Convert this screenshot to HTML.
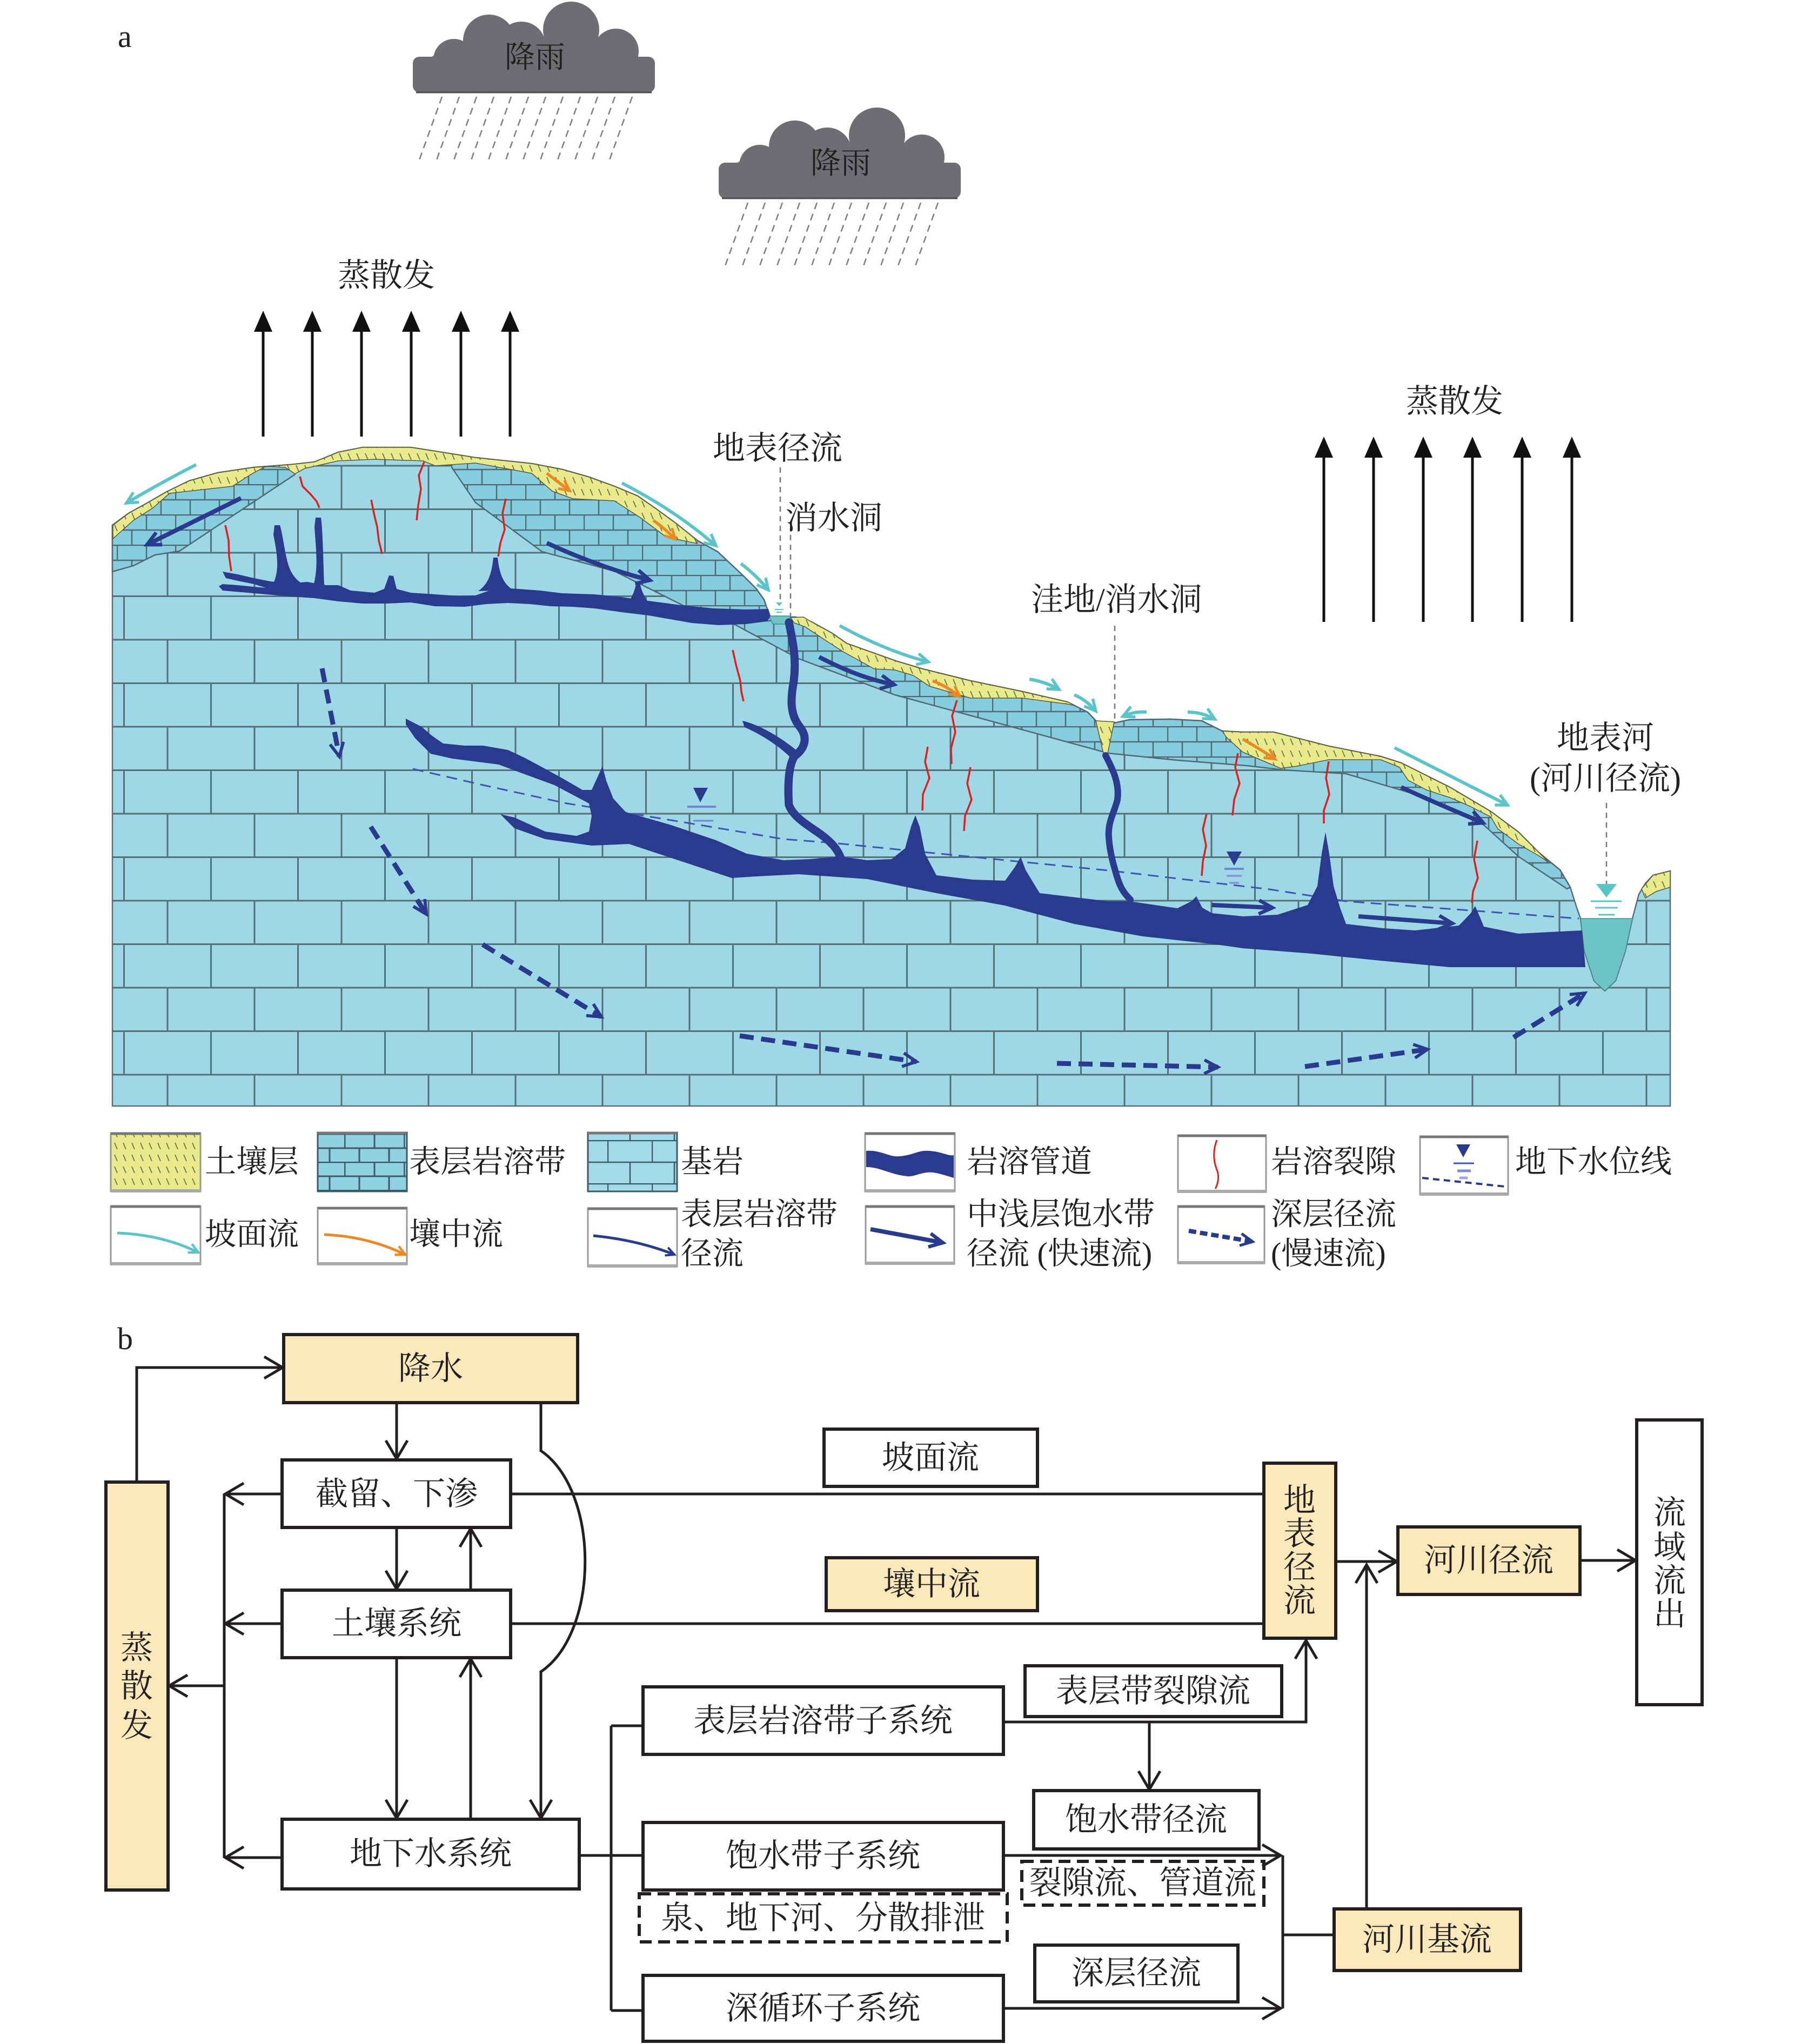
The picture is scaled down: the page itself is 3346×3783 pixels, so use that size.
<!DOCTYPE html>
<html><head><meta charset="utf-8">
<style>
html,body{margin:0;padding:0;background:#fff;}
svg{display:block}
text{font-family:"Liberation Serif","Noto Serif CJK SC",serif;fill:#231f20;}
</style></head>
<body>
<svg width="3346" height="3783" viewBox="0 0 3346 3783" xmlns="http://www.w3.org/2000/svg">
<defs>
  <pattern id="bed" patternUnits="userSpaceOnUse" x="67" y="1263" width="161" height="161">
    <rect width="161" height="161" fill="#9ed8e6"/>
    <path d="M0 1.5H161M0 82H161M1.5 0V82M82 82V161" stroke="#56707a" stroke-width="3" fill="none"/>
  </pattern>
  <pattern id="epi" patternUnits="userSpaceOnUse" x="0" y="0" width="108" height="56">
    <rect width="108" height="56" fill="#86cddf"/>
    <path d="M0 1H108M0 29H108M1 0V29M55 0V29M28 29V56M82 29V56" stroke="#4f6a75" stroke-width="2.5" fill="none"/>
  </pattern>
  <pattern id="epiL" patternUnits="userSpaceOnUse" x="637" y="2098" width="110" height="52">
    <rect width="110" height="52" fill="#8fd3e3"/>
    <path d="M0 1H110M0 27H110M1 0V27M56 0V27M28 27V52M83 27V52" stroke="#3e5a66" stroke-width="3" fill="none"/>
  </pattern>
  <pattern id="bedL" patternUnits="userSpaceOnUse" x="1124" y="2110" width="82" height="80">
    <rect width="82" height="80" fill="#a3dbe8"/>
    <path d="M0 1H82M0 41H82M1 0V41M42 41V80" stroke="#3e5a66" stroke-width="2.5" fill="none"/>
  </pattern>
  <pattern id="soil" patternUnits="userSpaceOnUse" width="16" height="22">
    <rect width="16" height="22" fill="#e8ea8c"/>
    <path d="M4 3L9 15" stroke="#6e6e48" stroke-width="1.7"/>
  </pattern>
  <marker id="aC" viewBox="0 0 10 10" refX="8" refY="5" markerWidth="5" markerHeight="5" orient="auto"><path d="M1 1.5L8 5L1 8.5" fill="none" stroke="#5bc4c8" stroke-width="1.8"/></marker>
  <marker id="aO" viewBox="0 0 10 10" refX="8" refY="5" markerWidth="5" markerHeight="5" orient="auto"><path d="M1 1.5L8 5L1 8.5" fill="none" stroke="#e88a25" stroke-width="1.8"/></marker>
  <marker id="aN" viewBox="0 0 10 10" refX="8" refY="5" markerWidth="4.5" markerHeight="4.5" orient="auto"><path d="M1 1.5L8 5L1 8.5" fill="none" stroke="#2a3a8c" stroke-width="1.8"/></marker>
  <marker id="aD" viewBox="0 0 10 10" refX="8" refY="5" markerWidth="4" markerHeight="4" orient="auto"><path d="M1 1.5L8 5L1 8.5" fill="none" stroke="#2a3a8c" stroke-width="1.6"/></marker>
  <g id="cloud">
    <g fill="#6d6e71">
      <circle cx="800" cy="140" r="32"/>
      <circle cx="840" cy="110" r="38"/>
      <circle cx="905" cy="75" r="48"/>
      <circle cx="965" cy="85" r="45"/>
      <circle cx="1057" cy="55" r="52"/>
      <circle cx="1140" cy="95" r="42"/>
      <circle cx="1182" cy="138" r="30"/>
      <rect x="764" y="105" width="448" height="66" rx="12"/>
      <ellipse cx="990" cy="120" rx="200" ry="50"/>
    </g>
    <line x1="770" y1="171" x2="1206" y2="171" stroke="#4a4b4d" stroke-width="3"/>
    <g stroke="#7d7d7d" stroke-width="2.5" stroke-dasharray="13 9">
      <line x1="818" y1="179" x2="776" y2="296"/>
      <line x1="850" y1="179" x2="808" y2="296"/>
      <line x1="882" y1="179" x2="840" y2="296"/>
      <line x1="914" y1="179" x2="872" y2="296"/>
      <line x1="946" y1="179" x2="904" y2="296"/>
      <line x1="978" y1="179" x2="936" y2="296"/>
      <line x1="1010" y1="179" x2="968" y2="296"/>
      <line x1="1042" y1="179" x2="1000" y2="296"/>
      <line x1="1074" y1="179" x2="1032" y2="296"/>
      <line x1="1106" y1="179" x2="1064" y2="296"/>
      <line x1="1138" y1="179" x2="1096" y2="296"/>
      <line x1="1170" y1="179" x2="1128" y2="296"/>
    </g>
  </g>
</defs>

<!-- ============ PART A ============ -->
<text x="218" y="87" font-size="58">a</text>

<use href="#cloud"/>
<use href="#cloud" transform="translate(566,196)"/>
<text x="990" y="107" font-size="56" text-anchor="middle" dominant-baseline="central">降雨</text>
<text x="1556" y="303" font-size="56" text-anchor="middle" dominant-baseline="central">降雨</text>

<!-- evaporation left -->
<text x="715" y="510" font-size="60" text-anchor="middle" dominant-baseline="central">蒸散发</text>
<g stroke="#111" stroke-width="5">
  <line x1="487" y1="808" x2="487" y2="610"/><line x1="578" y1="808" x2="578" y2="610"/>
  <line x1="669" y1="808" x2="669" y2="610"/><line x1="761" y1="808" x2="761" y2="610"/>
  <line x1="853" y1="808" x2="853" y2="610"/><line x1="944" y1="808" x2="944" y2="610"/>
</g>
<g fill="#111">
  <polygon points="470,614 487,575 504,614"/><polygon points="561,614 578,575 595,614"/>
  <polygon points="652,614 669,575 686,614"/><polygon points="744,614 761,575 778,614"/>
  <polygon points="836,614 853,575 870,614"/><polygon points="927,614 944,575 961,614"/>
</g>
<!-- evaporation right -->
<text x="2692" y="743" font-size="60" text-anchor="middle" dominant-baseline="central">蒸散发</text>
<g stroke="#111" stroke-width="5">
  <line x1="2450" y1="1151" x2="2450" y2="843"/><line x1="2542" y1="1151" x2="2542" y2="843"/>
  <line x1="2634" y1="1151" x2="2634" y2="843"/><line x1="2725" y1="1151" x2="2725" y2="843"/>
  <line x1="2817" y1="1151" x2="2817" y2="843"/><line x1="2909" y1="1151" x2="2909" y2="843"/>
</g>
<g fill="#111">
  <polygon points="2433,847 2450,808 2467,847"/><polygon points="2525,847 2542,808 2559,847"/>
  <polygon points="2617,847 2634,808 2651,847"/><polygon points="2708,847 2725,808 2742,847"/>
  <polygon points="2800,847 2817,808 2834,847"/><polygon points="2892,847 2909,808 2926,847"/>
</g>

<!-- ground / bedrock -->
<polygon fill="url(#bed)" stroke="#56707a" stroke-width="2.5" points="208,972 238,950 269,933 309,910 350,890 403,875 470,865 537,860 582,855 626,837 671,828 760,828 805,835 880,847 984,858 1041,869 1090,883 1137,900 1180,918 1213,941 1250,968 1290,1000 1328,1021 1376,1066 1400,1090 1414,1110 1424,1139 1432,1153 1456,1153 1462,1142 1472,1142 1500,1150 1540,1172 1567,1191 1618,1209 1660,1224 1707,1238 1796,1260 1892,1280 1975,1299 2013,1318 2030,1336 2045,1350 2062,1338 2090,1332 2166,1331 2224,1334 2262,1353 2300,1355 2357,1355 2459,1381 2555,1400 2593,1412 2683,1457 2759,1502 2810,1540 2848,1578 2887,1610 2906,1642 2918,1680 2925,1700 2932,1760 2950,1815 2970,1834 2990,1815 3008,1760 3021,1700 3033,1655 3045,1635 3059,1620 3091,1612 3091,2047 208,2047"/>

<!-- epikarst zones -->
<polygon fill="url(#epi)" stroke="#4f6a75" stroke-width="2.5" points="208,972 238,950 269,933 309,910 350,890 403,875 470,865 537,860 546,860 546,878 332,1020 287,1027 247,1047 208,1058"/>
<polygon fill="url(#epi)" stroke="#4f6a75" stroke-width="2.5" points="836,845 880,847 984,858 1041,869 1090,883 1137,900 1180,918 1213,941 1250,968 1290,1000 1328,1021 1376,1066 1400,1090 1414,1110 1424,1139 1432,1153 1456,1153 1462,1142 1472,1142 1500,1150 1540,1172 1567,1191 1618,1209 1660,1224 1707,1238 1796,1260 1892,1280 1975,1299 2013,1318 2030,1336 2045,1350 2062,1338 2090,1332 2166,1331 2224,1334 2262,1353 2300,1355 2357,1355 2459,1381 2555,1400 2593,1412 2683,1457 2759,1502 2810,1540 2848,1578 2887,1610 2906,1642 2900,1645 2810,1585 2746,1527 2619,1470 2491,1432 2376,1425 2307,1417 2179,1407 2090,1398 2051,1394 1656,1286 1478,1219 1330,1140 1271,1124 1137,1057 1003,1021 880,930 836,865"/>

<!-- soil -->
<g fill="url(#soil)" stroke="#5a5a3a" stroke-width="1.5">
  <polygon points="209,972 238,950 269,933 309,910 350,890 403,875 470,865 537,860 582,855 626,837 671,828 760,828 805,835 880,847 984,858 1041,869 1090,883 1137,900 1180,918 1213,941 1250,968 1290,1000 1290,1006 1233,994 1185,958 1137,927 1060,923 1022,909 984,876 880,857 805,862 783,853 693,850 626,853 564,867 546,877 528,865 492,863 466,877 430,900 367,907 314,913 283,940 247,963 209,997"/>
  <polygon points="1463,1143 1487,1142 1500,1150 1540,1172 1567,1191 1618,1209 1660,1224 1707,1238 1796,1260 1892,1280 1975,1299 1990,1306 1975,1303 1892,1292 1796,1292 1720,1270 1690,1250 1656,1240 1618,1238 1560,1206 1520,1180 1490,1160 1470,1153"/>
  <polygon points="2028,1334 2062,1336 2050,1394 2042,1394"/>
  <polygon points="2262,1353 2300,1355 2357,1355 2459,1381 2555,1400 2593,1412 2683,1457 2759,1502 2810,1540 2848,1578 2866,1596 2848,1584 2810,1562 2772,1534 2759,1512 2720,1492 2683,1476 2640,1462 2606,1444 2590,1420 2555,1406 2459,1406 2400,1418 2370,1422 2330,1405 2300,1392 2270,1365"/>
  <polygon points="3038,1645 3059,1620 3091,1612 3091,1642 3065,1650 3045,1662"/>
</g>

<!-- water: sinkhole and river -->
<polygon fill="#6cc4c4" stroke="#4f8a8a" stroke-width="1.5" points="1423,1140 1463,1140 1457,1155 1430,1155"/>
<polygon fill="#6cc4c4" stroke="#4f8a8a" stroke-width="1.5" points="2925,1700 3021,1700 3008,1760 2990,1815 2970,1834 2950,1815 2932,1760"/>

<!-- water table line -->
<polyline fill="none" stroke="#3f55b0" stroke-width="3" stroke-dasharray="20 12" points="764,1423 894,1453 1049,1487 1158,1504 1296,1527 1450,1553 1541,1560 1669,1573 2051,1611 2350,1646 2491,1668 2922,1700"/>

<!-- conduits -->
<g fill="#2a3a8c">
  <path d="M412,1058 L440,1063 L470,1070 L500,1076 L537,1080 L568,1077 L604,1083 L626,1083 L649,1093 L693,1097 L711,1090 L720,1065 L728,1066 L734,1090 L760,1097 L805,1100 L850,1103 L880,1102 L920,1088 L960,1090 L1000,1093 L1040,1098 L1100,1100 L1150,1105 L1200,1112 L1260,1120 L1320,1126 L1380,1128 L1422,1127 L1426,1140 L1420,1150 L1380,1155 L1330,1157 L1280,1153 L1240,1146 L1200,1139 L1150,1133 L1100,1126 L1060,1123 L1020,1122 L980,1118 L940,1116 L900,1118 L860,1123 L805,1122 L760,1115 L716,1117 L671,1117 L626,1113 L582,1107 L537,1104 L470,1098 L412,1093 L405,1085 L412,1081 L440,1083 L470,1086 L492,1088 L470,1081 L440,1075 L418,1070 Z"/>
  <path d="M502,1086 C520,1060 512,1020 506,990 L508,972 L518,972 C526,1000 528,1040 540,1060 C548,1075 560,1080 566,1086 Z"/>
  <path d="M580,1084 C590,1050 584,1010 582,975 L584,958 L594,958 C598,990 598,1040 600,1084 Z"/>
  <path d="M885,1094 C905,1080 910,1060 913,1032 L921,1032 C924,1060 930,1080 950,1092 Z"/>
  <path d="M1165,1112 C1175,1095 1176,1085 1178,1077 L1184,1077 C1186,1090 1190,1100 1200,1116 Z"/>
  <path d="M751,1330 L780,1345 L800,1362 L820,1376 L860,1380 L894,1380 L940,1388 L970,1402 L998,1417 L1040,1440 L1078,1462 L1095,1462 L1105,1440 L1115,1418 L1122,1445 L1135,1478 L1158,1503 L1239,1526 L1325,1555 L1382,1580 L1450,1592 L1500,1590 L1554,1585 L1605,1592 L1650,1590 L1675,1570 L1686,1530 L1694,1509 L1702,1530 L1712,1580 L1733,1620 L1800,1628 L1860,1630 L1878,1605 L1889,1586 L1898,1610 L1924,1653 L2000,1662 L2051,1668 L2090,1668 L2179,1681 L2205,1668 L2214,1659 L2225,1680 L2243,1690 L2300,1696 L2364,1693 L2420,1675 L2438,1640 L2446,1580 L2453,1540 L2460,1580 L2468,1640 L2480,1680 L2491,1710 L2560,1718 L2619,1722 L2700,1713 L2722,1690 L2730,1677 L2740,1700 L2746,1715 L2810,1728 L2928,1722 L2934,1790 L2810,1790 L2683,1790 L2555,1778 L2428,1765 L2300,1755 L2243,1747 L2115,1733 L1988,1710 L1860,1676 L1733,1653 L1605,1627 L1478,1618 L1400,1622 L1354,1625 L1285,1602 L1164,1562 L1095,1565 L1009,1553 L952,1533 L926,1507 L952,1513 L1009,1539 L1067,1547 L1090,1539 L1095,1510 L1090,1487 L1026,1453 L963,1430 L923,1415 L837,1404 L797,1395 L768,1366 L751,1341 Z"/>
  <path d="M1374,1334 C1400,1340 1440,1360 1478,1392 L1472,1412 C1450,1385 1410,1360 1378,1346 Z"/>
</g>
<g fill="none" stroke="#2a3a8c" stroke-linecap="round" stroke-linejoin="round">
  <path stroke-width="15" d="M1460,1152 C1468,1190 1474,1220 1469,1260 C1464,1290 1460,1320 1480,1345 C1496,1365 1490,1385 1470,1400 C1458,1420 1458,1460 1460,1490 C1470,1515 1500,1530 1520,1545 C1540,1560 1550,1572 1556,1588"/>
  <path stroke-width="12" d="M2046,1398 C2060,1425 2072,1450 2068,1480 C2062,1505 2050,1520 2052,1550 C2054,1580 2062,1605 2068,1625 C2074,1645 2082,1655 2092,1665"/>
</g>

<!-- fractures -->
<g fill="none" stroke="#e0201c" stroke-width="3.5" stroke-linejoin="round">
  <polyline points="555,882 560,900 575,915 586,928 591,940"/>
  <polyline points="785,855 775,880 779,905 774,935 771,963"/>
  <polyline points="687,925 692,950 698,975 701,1000 707,1025"/>
  <polyline points="936,923 930,950 934,980 926,1005 922,1030"/>
  <polyline points="417,972 423,1000 424,1030 428,1057"/>
  <polyline points="1356,1203 1362,1230 1370,1260 1372,1280 1376,1298"/>
  <polyline points="1771,1296 1762,1325 1768,1355 1760,1385 1761,1414"/>
  <polyline points="1717,1382 1712,1410 1720,1440 1708,1470 1707,1500"/>
  <polyline points="1796,1420 1790,1450 1798,1480 1786,1510 1784,1538"/>
  <polyline points="2291,1394 2286,1420 2294,1450 2284,1480 2281,1509"/>
  <polyline points="2233,1506 2226,1535 2232,1565 2226,1595 2224,1621"/>
  <polyline points="2459,1409 2454,1440 2460,1470 2450,1500 2450,1524"/>
  <polyline points="2734,1556 2728,1590 2735,1625 2726,1650 2724,1671"/>
</g>

<!-- slope flow (cyan) -->
<g fill="none" stroke="#5bc4c8" stroke-width="6" marker-end="url(#aC)">
  <path d="M363,860 Q300,892 234,931"/>
  <path d="M1151,894 Q1250,945 1325,1010"/>
  <path d="M1371,1043 Q1400,1065 1422,1092"/>
  <path d="M1554,1158 Q1640,1205 1718,1225"/>
  <path d="M1905,1257 Q1935,1262 1960,1276"/>
  <path d="M1988,1286 Q2010,1295 2028,1316"/>
  <path d="M2122,1318 Q2100,1316 2078,1326"/>
  <path d="M2198,1318 Q2225,1318 2248,1331"/>
  <path d="M2581,1384 L2790,1490"/>
</g>
<!-- interflow (orange) -->
<g fill="none" stroke="#e88a25" stroke-width="5.5" marker-end="url(#aO)">
  <path d="M1012,876 Q1030,890 1054,908"/>
  <path d="M1209,963 Q1230,978 1250,998"/>
  <path d="M1726,1260 Q1752,1270 1776,1289"/>
  <path d="M2300,1368 Q2330,1385 2360,1405"/>
</g>
<!-- epikarst flow (navy) -->
<g fill="none" stroke="#2a3a8c" stroke-width="8" marker-end="url(#aN)">
  <path d="M446,922 L272,1008"/>
  <path d="M1012,1005 Q1110,1050 1203,1074"/>
  <path d="M1516,1216 Q1590,1255 1655,1267"/>
  <path d="M2593,1457 Q2670,1492 2745,1523"/>
  <path d="M2243,1675 L2355,1680"/>
  <path d="M2514,1696 L2688,1709"/>
</g>
<!-- deep flow dashed -->
<g fill="none" stroke="#2a3a8c" stroke-width="9" stroke-dasharray="26 14" marker-end="url(#aD)">
  <path d="M596,1237 L628,1400"/>
  <path d="M686,1530 L789,1692"/>
  <path d="M893,1748 L1113,1882"/>
  <path d="M1369,1917 L1696,1965"/>
  <path d="M1956,1968 L2254,1975"/>
  <path d="M2415,1974 L2642,1942"/>
  <path d="M2801,1920 L2933,1838"/>
</g>

<!-- water table symbols -->
<polygon fill="#2a3a8c" points="1283,1458 1310,1458 1296,1485"/>
<line x1="1272" y1="1493" x2="1325" y2="1493" stroke="#6f86cc" stroke-width="4"/>
<line x1="1283" y1="1519" x2="1320" y2="1519" stroke="#6f86cc" stroke-width="3"/>
<polygon fill="#2a3a8c" points="2270,1576 2298,1576 2284,1602"/>
<line x1="2266" y1="1608" x2="2302" y2="1608" stroke="#6f86cc" stroke-width="4"/>
<line x1="2270" y1="1621" x2="2298" y2="1621" stroke="#8a9ad6" stroke-width="4"/>
<line x1="2275" y1="1634" x2="2293" y2="1634" stroke="#8a9ad6" stroke-width="4"/>
<!-- sinkhole water symbol -->
<polygon fill="#5bc4c8" points="1436,1115 1448,1115 1442,1122"/>
<line x1="1434" y1="1128" x2="1450" y2="1128" stroke="#5bc4c8" stroke-width="2"/>
<line x1="1437" y1="1133" x2="1447" y2="1133" stroke="#5bc4c8" stroke-width="2"/>

<!-- leader lines -->
<g stroke="#777" stroke-width="2.5" stroke-dasharray="10 8" fill="none">
  <line x1="1444" y1="865" x2="1444" y2="1110"/>
  <line x1="1463" y1="990" x2="1463" y2="1140"/>
  <line x1="2063" y1="1158" x2="2063" y2="1330"/>
  <line x1="2973" y1="1486" x2="2973" y2="1636"/>
</g>
<polygon fill="#5bc4c8" points="2954,1636 2992,1636 2973,1661"/>
<line x1="2944" y1="1668" x2="3001" y2="1668" stroke="#5bc4c8" stroke-width="3"/>
<line x1="2952" y1="1680" x2="2994" y2="1680" stroke="#5bc4c8" stroke-width="3"/>
<line x1="2958" y1="1693" x2="2988" y2="1693" stroke="#5bc4c8" stroke-width="3"/>

<!-- labels -->
<g font-size="60" dominant-baseline="central">
  <text x="1319" y="830">地表径流</text>
  <text x="1453" y="959">消水洞</text>
  <text x="1908" y="1110">洼地/消水洞</text>
  <text x="2971" y="1366" text-anchor="middle">地表河</text>
  <text x="2971" y="1441" text-anchor="middle">(河川径流)</text>
</g>

<!-- ============ LEGEND ============ -->
<g>
  <rect x="205" y="2097" width="166" height="108" fill="url(#soil)" stroke="#999" stroke-width="3"/>
  <rect x="588" y="2096" width="165" height="109" fill="url(#epiL)" stroke="#3e5a66" stroke-width="3"/>
  <rect x="1088" y="2096" width="165" height="109" fill="url(#bedL)" stroke="#3e5a66" stroke-width="3"/>
  <rect x="1601" y="2097" width="166" height="108" fill="#fff" stroke="#999" stroke-width="3"/>
  <rect x="2180" y="2101" width="163" height="105" fill="#fff" stroke="#999" stroke-width="3"/>
  <rect x="2628" y="2103" width="163" height="108" fill="#fff" stroke="#999" stroke-width="3"/>
  <rect x="205" y="2232" width="166" height="108" fill="#fff" stroke="#999" stroke-width="3"/>
  <rect x="588" y="2235" width="165" height="105" fill="#fff" stroke="#999" stroke-width="3"/>
  <rect x="1088" y="2236" width="165" height="108" fill="#fff" stroke="#999" stroke-width="3"/>
  <rect x="1602" y="2232" width="164" height="107" fill="#fff" stroke="#999" stroke-width="3"/>
  <rect x="2180" y="2232" width="160" height="106" fill="#fff" stroke="#999" stroke-width="3"/>
  <g stroke="#777" stroke-width="5">
    <line x1="205" y1="2098" x2="371" y2="2098"/><line x1="588" y1="2097" x2="753" y2="2097"/>
    <line x1="1088" y1="2097" x2="1253" y2="2097"/><line x1="1601" y1="2098" x2="1767" y2="2098"/>
    <line x1="2180" y1="2102" x2="2343" y2="2102"/><line x1="2628" y1="2104" x2="2791" y2="2104"/>
    <line x1="205" y1="2233" x2="371" y2="2233"/><line x1="588" y1="2236" x2="753" y2="2236"/>
    <line x1="1088" y1="2237" x2="1253" y2="2237"/><line x1="1602" y1="2233" x2="1766" y2="2233"/>
    <line x1="2180" y1="2233" x2="2340" y2="2233"/>
  </g>
  <g stroke="#aaa" stroke-width="6">
    <line x1="205" y1="2204" x2="371" y2="2204"/><line x1="1601" y1="2204" x2="1767" y2="2204"/>
    <line x1="2180" y1="2205" x2="2343" y2="2205"/><line x1="2628" y1="2210" x2="2791" y2="2210"/>
    <line x1="205" y1="2339" x2="371" y2="2339"/><line x1="588" y1="2339" x2="753" y2="2339"/>
    <line x1="1088" y1="2343" x2="1253" y2="2343"/><line x1="1602" y1="2338" x2="1766" y2="2338"/>
    <line x1="2180" y1="2337" x2="2340" y2="2337"/>
  </g>
  <path fill="#2a3a8c" d="M1603,2130 C1630,2128 1645,2142 1665,2140 C1690,2138 1700,2128 1720,2130 C1745,2132 1755,2140 1765,2138 L1765,2180 C1750,2176 1730,2168 1715,2170 C1700,2172 1690,2178 1680,2177 C1650,2175 1630,2160 1603,2160 Z"/>
  <path fill="none" stroke="#e0201c" stroke-width="3" d="M2252,2110 C2244,2130 2246,2150 2252,2165 C2258,2180 2252,2195 2249,2200"/>
  <polygon fill="#2a3a8c" points="2695,2118 2721,2118 2708,2142"/>
  <line x1="2690" y1="2153" x2="2728" y2="2153" stroke="#3f55b0" stroke-width="3"/>
  <line x1="2697" y1="2167" x2="2722" y2="2167" stroke="#7a8fd0" stroke-width="5"/>
  <line x1="2701" y1="2180" x2="2716" y2="2180" stroke="#9aa8dc" stroke-width="5"/>
  <path d="M2632,2180 L2785,2196" stroke="#2a3a8c" stroke-width="4" stroke-dasharray="12 8" fill="none"/>
  <path d="M217,2282 Q300,2285 367,2318" fill="none" stroke="#5bc4c8" stroke-width="5" marker-end="url(#aC)"/>
  <path d="M600,2285 Q680,2288 750,2322" fill="none" stroke="#e88a25" stroke-width="5" marker-end="url(#aO)"/>
  <path d="M1098,2287 Q1180,2295 1248,2322" fill="none" stroke="#2a3a8c" stroke-width="5" marker-end="url(#aN)"/>
  <path d="M1611,2275 L1745,2300" fill="none" stroke="#2a3a8c" stroke-width="8" marker-end="url(#aN)"/>
  <path d="M2200,2278 L2318,2298" fill="none" stroke="#2a3a8c" stroke-width="8" stroke-dasharray="14 7" marker-end="url(#aD)"/>
  <g font-size="58" dominant-baseline="central">
    <text x="379" y="2150">土壤层</text>
    <text x="757" y="2150">表层岩溶带</text>
    <text x="1260" y="2150">基岩</text>
    <text x="1789" y="2150">岩溶管道</text>
    <text x="2352" y="2150">岩溶裂隙</text>
    <text x="2804" y="2150">地下水位线</text>
    <text x="379" y="2284">坡面流</text>
    <text x="757" y="2284">壤中流</text>
    <text x="1260" y="2247">表层岩溶带</text>
    <text x="1260" y="2320">径流</text>
    <text x="1789" y="2247">中浅层饱水带</text>
    <text x="1789" y="2320">径流 (快速流)</text>
    <text x="2352" y="2247">深层径流</text>
    <text x="2352" y="2320">(慢速流)</text>
  </g>
</g>

<!-- ============ PART B ============ -->
<text x="217" y="2497" font-size="58">b</text>
<g stroke="#231f20" stroke-width="6">
  <rect x="525" y="2470" width="544" height="126" fill="#f9e8b9"/>
  <rect x="522" y="2702" width="423" height="125" fill="#fff"/>
  <rect x="522" y="2943" width="423" height="125" fill="#fff"/>
  <rect x="522" y="3367" width="550" height="129" fill="#fff"/>
  <rect x="196" y="2743" width="115" height="755" fill="#f9e8b9"/>
  <rect x="1525" y="2645" width="395" height="106" fill="#fff"/>
  <rect x="1529" y="2883" width="391" height="98" fill="#f9e8b9"/>
  <rect x="2339" y="2708" width="133" height="324" fill="#f9e8b9"/>
  <rect x="2587" y="2826" width="337" height="125" fill="#f9e8b9"/>
  <rect x="3029" y="2628" width="121" height="527" fill="#fff"/>
  <rect x="1190" y="3122" width="667" height="125" fill="#fff"/>
  <rect x="1897" y="3083" width="475" height="94" fill="#fff"/>
  <rect x="1913" y="3314" width="417" height="108" fill="#fff"/>
  <rect x="1190" y="3373" width="667" height="125" fill="#fff"/>
  <rect x="2469" y="3533" width="345" height="114" fill="#f9e8b9"/>
  <rect x="1915" y="3600" width="376" height="105" fill="#fff"/>
  <rect x="1190" y="3656" width="667" height="122" fill="#fff"/>
  <rect x="1891" y="3445" width="448" height="81" fill="#fff" stroke-dasharray="22 12"/>
  <rect x="1183" y="3505" width="681" height="89" fill="#fff" stroke-dasharray="22 12"/>
</g>

<g stroke="#231f20" stroke-width="5" fill="none" stroke-linejoin="miter">
  <!-- evap to precip -->
  <polyline points="253,2743 253,2531 523,2531"/>
  <polyline points="489,2511 523,2531 489,2551"/>
  <!-- left bus -->
  <line x1="415" y1="2765" x2="415" y2="3438"/>
  <line x1="417" y1="2765" x2="522" y2="2765"/>
  <line x1="417" y1="3005" x2="522" y2="3005"/>
  <line x1="417" y1="3438" x2="522" y2="3438"/>
  <polyline points="451,2745 417,2765 451,2785"/>
  <polyline points="451,2985 417,3005 451,3025"/>
  <polyline points="451,3418 417,3438 451,3458"/>
  <line x1="313" y1="3120" x2="415" y2="3120"/>
  <polyline points="347,3100 313,3120 347,3140"/>
  <!-- down arrows -->
  <line x1="734" y1="2596" x2="734" y2="2700"/><polyline points="714,2666 734,2700 754,2666"/>
  <line x1="734" y1="2827" x2="734" y2="2941"/><polyline points="714,2907 734,2941 754,2907"/>
  <line x1="734" y1="3068" x2="734" y2="3365"/><polyline points="714,3331 734,3365 754,3331"/>
  <!-- up arrows -->
  <line x1="871" y1="2943" x2="871" y2="2829"/><polyline points="851,2863 871,2829 891,2863"/>
  <line x1="871" y1="3367" x2="871" y2="3070"/><polyline points="851,3104 871,3070 891,3104"/>
  <!-- curve -->
  <path d="M1001,2596 L1001,2685 C1110,2760 1110,3020 1001,3094 L1001,3365"/>
  <polyline points="981,3331 1001,3365 1021,3331"/>
  <!-- to surface runoff -->
  <line x1="945" y1="2765" x2="2339" y2="2765"/>
  <line x1="945" y1="3005" x2="2339" y2="3005"/>
  <!-- groundwater to subsystems -->
  <line x1="1072" y1="3434" x2="1131" y2="3434"/>
  <line x1="1131" y1="3194" x2="1131" y2="3721"/>
  <line x1="1131" y1="3194" x2="1190" y2="3194"/>
  <line x1="1131" y1="3434" x2="1190" y2="3434"/>
  <line x1="1131" y1="3721" x2="1190" y2="3721"/>
  <!-- epikarst subsystem -->
  <polyline points="1857,3187 2417,3187 2417,3036"/>
  <polyline points="2397,3070 2417,3036 2437,3070"/>
  <line x1="2127" y1="3187" x2="2127" y2="3312"/>
  <polyline points="2107,3278 2127,3312 2147,3278"/>
  <!-- saturated -->
  <line x1="1857" y1="3434" x2="2370" y2="3434"/>
  <polyline points="2336,3414 2370,3434 2336,3454"/>
  <line x1="1857" y1="3717" x2="2370" y2="3717"/>
  <polyline points="2336,3697 2370,3717 2336,3737"/>
  <line x1="2374" y1="3434" x2="2374" y2="3717"/>
  <line x1="2374" y1="3581" x2="2469" y2="3581"/>
  <!-- baseflow up -->
  <line x1="2529" y1="3533" x2="2529" y2="2896"/>
  <polyline points="2509,2930 2529,2896 2549,2930"/>
  <!-- surface runoff to river -->
  <line x1="2472" y1="2890" x2="2585" y2="2890"/>
  <polyline points="2551,2870 2585,2890 2551,2910"/>
  <line x1="2924" y1="2888" x2="3027" y2="2888"/>
  <polyline points="2993,2868 3027,2888 2993,2908"/>
</g>

<g font-size="60" text-anchor="middle" dominant-baseline="central">
  <text x="797" y="2533">降水</text>
  <text x="734" y="2765">截留、下渗</text>
  <text x="734" y="3005">土壤系统</text>
  <text x="797" y="3431">地下水系统</text>
  <text x="253" y="3050">蒸</text>
  <text x="253" y="3121">散</text>
  <text x="253" y="3194">发</text>
  <text x="1722" y="2698">坡面流</text>
  <text x="1724" y="2932">壤中流</text>
  <text x="2405" y="2777">地</text>
  <text x="2405" y="2839">表</text>
  <text x="2405" y="2901">径</text>
  <text x="2405" y="2963">流</text>
  <text x="2755" y="2888">河川径流</text>
  <text x="3090" y="2800">流</text>
  <text x="3090" y="2864">域</text>
  <text x="3090" y="2926">流</text>
  <text x="3090" y="2988">出</text>
  <text x="1523" y="3185">表层岩溶带子系统</text>
  <text x="2134" y="3130">表层带裂隙流</text>
  <text x="2121" y="3368">饱水带径流</text>
  <text x="1523" y="3435">饱水带子系统</text>
  <text x="2115" y="3485">裂隙流、管道流</text>
  <text x="1523" y="3550">泉、地下河、分散排泄</text>
  <text x="2641" y="3590">河川基流</text>
  <text x="2103" y="3652">深层径流</text>
  <text x="1523" y="3717">深循环子系统</text>
</g>
</svg>
</body></html>
